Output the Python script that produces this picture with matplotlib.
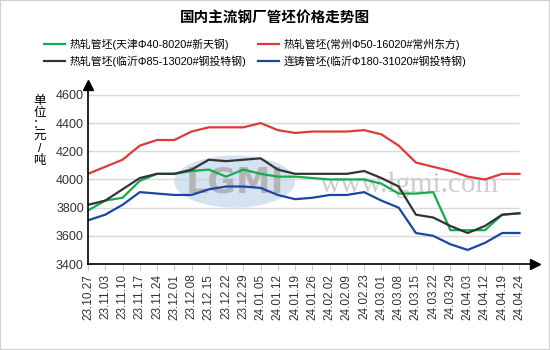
import matplotlib.pyplot as plt
from matplotlib.patches import Ellipse, Rectangle

plt.rcParams['font.family'] = ['Liberation Sans', 'Noto Sans CJK SC', 'DejaVu Sans']

dates = ["23.10.27", "23.11.03", "23.11.10", "23.11.17", "23.11.24", "23.12.01",
         "23.12.08", "23.12.15", "23.12.22", "23.12.29", "24.01.05", "24.01.12",
         "24.01.19", "24.01.26", "24.02.02", "24.02.09", "24.02.23", "24.03.01",
         "24.03.08", "24.03.15", "24.03.22", "24.03.29", "24.04.03", "24.04.12",
         "24.04.19", "24.04.24"]

tianjin = [3780, 3850, 3870, 3990, 4040, 4040, 4060, 4070, 4020, 4070, 4040, 4020,
           4020, 4010, 4000, 4000, 4000, 3970, 3900, 3900, 3910, 3640, 3640, 3640,
           3750, 3760]
changzhou = [4040, 4090, 4140, 4240, 4280, 4280, 4340, 4370, 4370, 4370, 4400, 4350,
             4330, 4340, 4340, 4340, 4350, 4320, 4240, 4120, 4090, 4060, 4020, 4000,
             4040, 4040]
linyi_hot = [3820, 3850, 3930, 4010, 4040, 4040, 4070, 4140, 4130, 4140, 4150, 4070,
             4040, 4040, 4040, 4040, 4060, 4010, 3950, 3750, 3730, 3670, 3620, 3670,
             3750, 3760]
linyi_cc = [3710, 3750, 3820, 3910, 3900, 3890, 3890, 3930, 3950, 3950, 3940, 3890,
            3860, 3870, 3890, 3890, 3910, 3850, 3800, 3620, 3600, 3540, 3500, 3550,
            3620, 3620]

series = [
    ("热轧管坯(天津Φ40-8020#新天钢)", tianjin, "#12ad4f"),
    ("热轧管坯(临沂Φ85-13020#钢投特钢)", linyi_hot, "#333333"),
    ("热轧管坯(常州Φ50-16020#常州东方)", changzhou, "#dc3b3b"),
    ("连铸管坯(临沂Φ180-31020#钢投特钢)", linyi_cc, "#1b46a6"),
]

fig = plt.figure(figsize=(5.5, 3.5), dpi=100)
fig.patches.append(Rectangle((0, 0), 1, 1, transform=fig.transFigure, fill=False,
                             edgecolor="#d0d0d0", linewidth=1.5))
ax = fig.add_axes([0.16, 0.2457, 0.8127, 0.5113])

x = list(range(len(dates)))
yticks = [3400, 3600, 3800, 4000, 4200, 4400, 4600]
ax.hlines(yticks[1:], 0, len(dates) - 1, color="#d9d9d9", linewidth=1, zorder=0)

# watermark
ax.add_patch(Ellipse((8.5, 3985), 7.0, 370, color="#c4d6ec", alpha=0.7, zorder=0.5,
                     linewidth=0))
ax.text(8.5, 3975, "LGMI", fontsize=25, fontweight="bold", color="#b4b4b4",
        ha="center", va="center", family="DejaVu Sans", zorder=0.6)
ax.text(18.6, 3962, "www.lgmi.com", fontsize=21, color="#cdcdcd", ha="center",
        va="center", family="Liberation Serif", zorder=0.6)

for name, vals, col in series:
    ax.plot(x, vals, color=col, linewidth=1.6, label=name, solid_joinstyle="round")

ax.set_xlim(0, 25.9)
ax.set_ylim(3400, 4670)
ax.set_yticks(yticks)
ax.set_yticklabels([str(v) for v in yticks], fontsize=9, color="#333333")
ax.set_xticks(x)
ax.set_xticklabels(dates, rotation=90, fontsize=8.5, color="#333333")
ax.tick_params(axis="x", length=4, color="#cccccc", pad=3)
ax.tick_params(axis="y", length=3, color="#cccccc", direction="in", pad=3)
for s in ["top", "right"]:
    ax.spines[s].set_visible(False)
ax.spines["left"].set_linewidth(1.2)
ax.spines["bottom"].set_linewidth(1.2)
ax.plot(1, 0, ">k", markersize=7, transform=ax.transAxes, clip_on=False)
ax.plot(0, 1, "^k", markersize=7, transform=ax.transAxes, clip_on=False)

fig.text(0.5, 0.95, "国内主流钢厂管坯价格走势图", ha="center", va="center",
         fontsize=10.5, fontweight="bold")
fig.text(0.072, 0.625, "单\n位\n：\n元\n/\n吨", ha="center", va="center", fontsize=9,
         linespacing=1.0)

fig.legend(loc="upper left", bbox_to_anchor=(0.07, 0.905), ncol=2, frameon=False,
           fontsize=7.8, handlelength=1.9, columnspacing=1.1, handletextpad=0.45,
           labelspacing=0.45, borderpad=0)

fig.savefig("out.png", dpi=100)
